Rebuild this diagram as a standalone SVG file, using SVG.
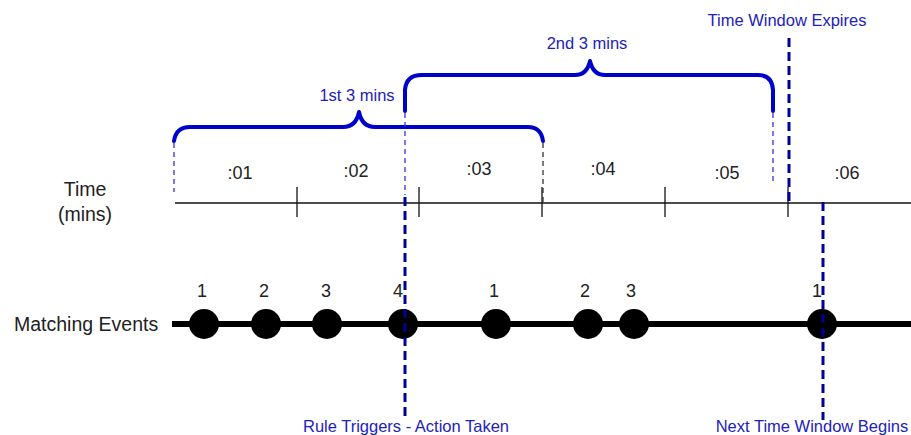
<svg xmlns="http://www.w3.org/2000/svg" width="911" height="435" viewBox="0 0 911 435">
<style>
.lbl{font-family:"Liberation Sans",Arial,sans-serif;font-size:18px;fill:#222;}
.big{font-family:"Liberation Sans",Arial,sans-serif;font-size:19.5px;fill:#222;}
.blue{font-family:"Liberation Sans",Arial,sans-serif;font-size:16.5px;fill:#2222bb;}
.brace{fill:none;stroke:#0000cc;stroke-width:4;stroke-linecap:round;stroke-linejoin:round;}
.thin{stroke:#3333dd;stroke-width:1.3;stroke-dasharray:5,4;}
.thing{stroke:#333;stroke-width:1.3;stroke-dasharray:5,4;}
.thick{stroke:#000099;stroke-width:3;stroke-dasharray:9,5;}
.tick{stroke:#111;stroke-width:1.3;}
.ev{fill:#000;}
</style>
<rect width="911" height="435" fill="#fff"/>
<g id="time-axis">
<line x1="175" y1="203" x2="911" y2="203" class="tick"/>
<line x1="297" y1="187" x2="297" y2="217" class="tick"/>
<line x1="419" y1="187" x2="419" y2="217" class="tick"/>
<line x1="542" y1="187" x2="542" y2="217" class="tick"/>
<line x1="665" y1="187" x2="665" y2="217" class="tick"/>
<line x1="788" y1="187" x2="788" y2="217" class="tick"/>
<text class="big" x="85" y="196" text-anchor="middle">Time</text>
<text class="big" x="85" y="221" text-anchor="middle">(mins)</text>
<text class="lbl" x="240" y="179" text-anchor="middle">:01</text>
<text class="lbl" x="356" y="177" text-anchor="middle">:02</text>
<text class="lbl" x="479" y="175" text-anchor="middle">:03</text>
<text class="lbl" x="603" y="175" text-anchor="middle">:04</text>
<text class="lbl" x="727" y="179" text-anchor="middle">:05</text>
<text class="lbl" x="847" y="179" text-anchor="middle">:06</text>
</g>
<g id="brace1">
<path class="brace" d="M174,141 Q176,127 190,127 L343,127 Q356,127 359,112 Q362,127 375,127 L528,127 Q541,127 543,141"/>
<text class="blue" x="357" y="101" text-anchor="middle">1st 3 mins</text>
</g>
<g id="brace2">
<path class="brace" d="M405,111 L405,90 Q406,75 422,75 L575,75 Q587,75 590,61 Q593,75 605,75 L758,75 Q772,75 773,90 L773,111"/>
<text class="blue" x="587" y="49" text-anchor="middle">2nd 3 mins</text>
</g>
<g id="events">
<line x1="172" y1="324" x2="911" y2="324" stroke="#000" stroke-width="6"/>
<text class="big" x="14" y="331">Matching Events</text>
<circle class="ev" cx="204" cy="324" r="15"/>
<circle class="ev" cx="266" cy="324" r="15"/>
<circle class="ev" cx="327" cy="324" r="15"/>
<circle class="ev" cx="403" cy="324" r="15"/>
<circle class="ev" cx="496" cy="324" r="15"/>
<circle class="ev" cx="588" cy="324" r="15"/>
<circle class="ev" cx="634" cy="324" r="15"/>
<circle class="ev" cx="822" cy="324" r="15"/>
<text class="lbl" x="202" y="297" text-anchor="middle">1</text>
<text class="lbl" x="264" y="297" text-anchor="middle">2</text>
<text class="lbl" x="326" y="297" text-anchor="middle">3</text>
<text class="lbl" x="398" y="297" text-anchor="middle">4</text>
<text class="lbl" x="494" y="297" text-anchor="middle">1</text>
<text class="lbl" x="585" y="297" text-anchor="middle">2</text>
<text class="lbl" x="631" y="297" text-anchor="middle">3</text>
<text class="lbl" x="817" y="297" text-anchor="middle">1</text>
</g>
<g id="connectors">
<line class="thin" x1="174" y1="143" x2="174" y2="192"/>
<line class="thing" x1="543" y1="143" x2="543" y2="203"/>
<line class="thin" x1="405" y1="113" x2="405" y2="195"/>
<line class="thin" x1="773" y1="113" x2="773" y2="183"/>
<line class="thick" x1="405" y1="197" x2="405" y2="420"/>
<line class="thick" x1="789" y1="38" x2="789" y2="206"/>
<line class="thick" x1="823" y1="202" x2="823" y2="420" stroke-width="2.5"/>
</g>
<g id="annotations">
<text class="blue" x="406" y="432" text-anchor="middle">Rule Triggers - Action Taken</text>
<text class="blue" x="812" y="432" text-anchor="middle">Next Time Window Begins</text>
<text class="blue" x="787" y="26" text-anchor="middle">Time Window Expires</text>
</g>
</svg>
